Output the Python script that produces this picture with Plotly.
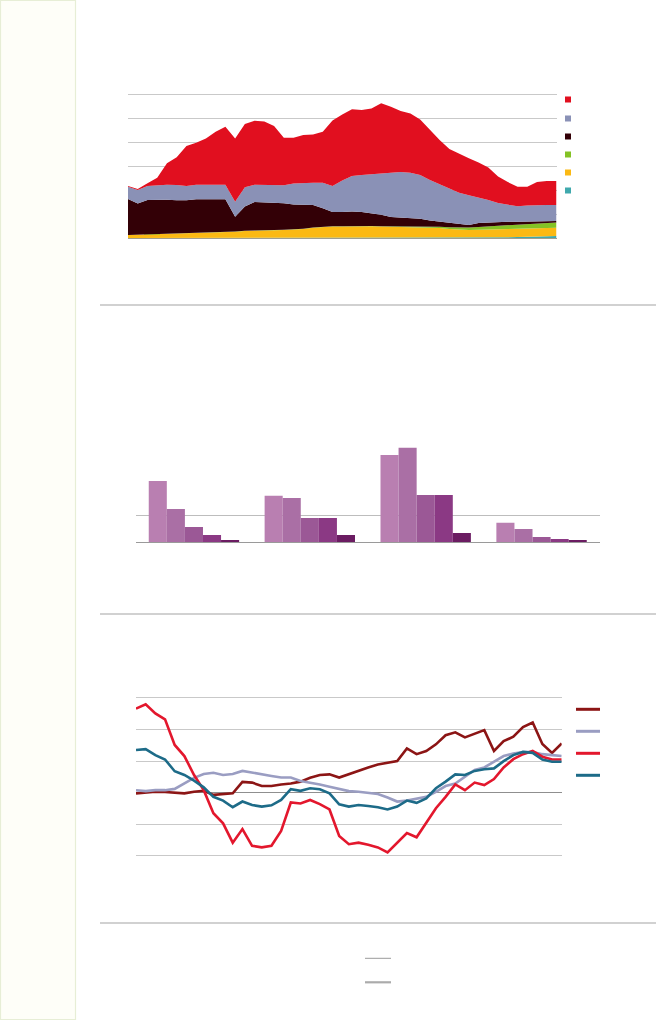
import plotly.graph_objects as go

W, H = 656, 1021

# ---------- panel 1: stacked areas ----------
years = list(range(1970, 2015))

area_red = [0.03, 0.04, 0.11, 0.30, 0.89, 1.15, 1.66, 1.75, 1.93, 2.21, 2.42, 2.64, 2.64, 2.67, 2.63,
            2.46, 1.98, 1.91, 1.99, 2.01, 2.13, 2.73, 2.75, 2.78, 2.70, 2.74, 2.89, 2.72, 2.54, 2.47,
            2.32, 2.08, 1.84, 1.66, 1.61, 1.54, 1.46, 1.36, 1.10, 0.95, 0.82, 0.79, 0.95, 1.00, 1.00]
area_grey = [0.51, 0.56, 0.59, 0.62, 0.63, 0.64, 0.60, 0.61, 0.60, 0.61, 0.61, 0.62, 0.80, 0.72, 0.73,
             0.72, 0.75, 0.87, 0.90, 0.92, 1.06, 1.09, 1.32, 1.48, 1.55, 1.63, 1.75, 1.87, 1.90, 1.89,
             1.82, 1.69, 1.56, 1.43, 1.32, 1.24, 1.06, 0.93, 0.78, 0.70, 0.64, 0.67, 0.69, 0.68, 0.67]
area_maroon = [1.50, 1.30, 1.43, 1.43, 1.42, 1.39, 1.38, 1.41, 1.41, 1.39, 1.37, 0.62, 1.01, 1.20, 1.18,
               1.16, 1.11, 1.04, 1.01, 0.94, 0.77, 0.59, 0.59, 0.60, 0.58, 0.53, 0.48, 0.39, 0.36, 0.35,
               0.32, 0.25, 0.21, 0.17, 0.13, 0.10, 0.17, 0.17, 0.18, 0.15, 0.13, 0.10, 0.09, 0.07, 0.06]
area_green = [0.01] * 27 + [0.02, 0.03, 0.03, 0.03, 0.04, 0.05, 0.07, 0.09, 0.11, 0.12, 0.13, 0.14,
                            0.15, 0.16, 0.18, 0.19, 0.21, 0.22]
area_orange = [0.12, 0.13, 0.14, 0.15, 0.16, 0.17, 0.18, 0.19, 0.20, 0.21, 0.23, 0.26, 0.29, 0.29, 0.30,
               0.32, 0.33, 0.35, 0.38, 0.43, 0.46, 0.48, 0.48, 0.49, 0.49, 0.49, 0.48, 0.47, 0.46, 0.45,
               0.45, 0.44, 0.42, 0.38, 0.35, 0.33, 0.34, 0.34, 0.34, 0.35, 0.35, 0.35, 0.35, 0.35, 0.35]
area_teal = [0.0] * 37 + [0.01, 0.02, 0.03, 0.04, 0.05, 0.06, 0.07, 0.08]

area_colors = {
    "teal": "#3fa9ad", "orange": "#fbb913", "green": "#84c225",
    "maroon": "#330006", "grey": "#8a91b6", "red": "#e10f1f",
}

# ---------- panel 2: grouped bars ----------
bar_groups = [0, 1, 2, 3]
bar_series = [
    [22.7, 17.2, 32.3, 7.2],
    [12.3, 16.4, 35.0, 4.9],
    [5.7, 9.0, 17.5, 2.0],
    [2.7, 9.0, 17.5, 1.2],
    [0.85, 2.7, 3.4, 0.85],
]
bar_colors = ["#b97fb1", "#aa6fa5", "#9b5896", "#8b3984", "#6b1c62"]

# ---------- panel 3: lines ----------
line_darkred = [-0.02, 0.00, 0.03, 0.02, 0.01, -0.02, 0.03, 0.06, -0.07, -0.05, -0.02, 0.34, 0.32, 0.21,
                0.21, 0.26, 0.29, 0.35, 0.47, 0.56, 0.58, 0.48, 0.59, 0.68, 0.80, 0.89, 0.95, 1.00, 1.40,
                1.22, 1.32, 1.53, 1.82, 1.91, 1.75, 1.87, 1.98, 1.32, 1.63, 1.77, 2.08, 2.22, 1.54, 1.26,
                1.56]
line_lavender = [0.08, 0.05, 0.08, 0.08, 0.12, 0.29, 0.47, 0.59, 0.63, 0.56, 0.59, 0.69, 0.63, 0.59, 0.53,
                 0.48, 0.48, 0.37, 0.32, 0.26, 0.19, 0.11, 0.05, 0.03, 0.00, -0.04, -0.15, -0.28, -0.25,
                 -0.20, -0.13, 0.03, 0.21, 0.29, 0.51, 0.72, 0.80, 0.98, 1.16, 1.24, 1.29, 1.29, 1.22,
                 1.19, 1.16]
line_red = [2.66, 2.80, 2.51, 2.32, 1.51, 1.16, 0.56, 0.08, -0.65, -0.97, -1.58, -1.15, -1.68, -1.73,
            -1.68, -1.21, -0.31, -0.34, -0.23, -0.36, -0.53, -1.37, -1.63, -1.58, -1.65, -1.73, -1.89,
            -1.60, -1.28, -1.41, -0.97, -0.49, -0.13, 0.26, 0.08, 0.32, 0.24, 0.43, 0.80, 1.06, 1.22,
            1.32, 1.14, 1.05, 1.05]
line_teal = [1.35, 1.38, 1.19, 1.05, 0.68, 0.56, 0.38, 0.17, -0.13, -0.25, -0.46, -0.28, -0.39, -0.44,
             -0.40, -0.23, 0.11, 0.06, 0.14, 0.11, -0.02, -0.37, -0.44, -0.39, -0.42, -0.46, -0.53, -0.44,
             -0.25, -0.32, -0.18, 0.14, 0.35, 0.58, 0.56, 0.69, 0.74, 0.77, 1.00, 1.19, 1.29, 1.26, 1.05,
             0.98, 0.98]
line_colors = ["#8c1515", "#9a9dc2", "#e3172d", "#1d6b88"]


def px_x(p):
    return p / W


def px_y(p):
    return 1 - p / H


fig = go.Figure()

# stacked areas, bottom layer first
for vals, key in [(area_teal, "teal"), (area_orange, "orange"), (area_green, "green"),
                  (area_maroon, "maroon"), (area_grey, "grey"), (area_red, "red")]:
    fig.add_trace(go.Scatter(
        x=years, y=vals, stackgroup="one", mode="lines",
        line=dict(width=0, color=area_colors[key]), fillcolor=area_colors[key],
        xaxis="x", yaxis="y", showlegend=False, hoverinfo="skip",
    ))

for vals, col in zip(bar_series, bar_colors):
    fig.add_trace(go.Bar(
        x=bar_groups, y=vals, marker=dict(color=col, line=dict(width=0)),
        xaxis="x2", yaxis="y2", showlegend=False, hoverinfo="skip",
    ))

for vals, col in zip([line_darkred, line_lavender, line_red, line_teal], line_colors):
    fig.add_trace(go.Scatter(
        x=years, y=vals, mode="lines", line=dict(color=col, width=2.6),
        xaxis="x3", yaxis="y3", showlegend=False, hoverinfo="skip",
    ))

shapes = []
# left sidebar panel
shapes.append(dict(type="rect", xref="paper", yref="paper",
                   x0=px_x(0.5), x1=px_x(75.5), y0=px_y(1019.5), y1=px_y(0.5),
                   fillcolor="#fefef8", line=dict(color="#e7eed6", width=1.2), layer="below"))
# section rules
for yy in [305, 614, 923]:
    shapes.append(dict(type="line", xref="paper", yref="paper",
                       x0=px_x(100), x1=px_x(656), y0=px_y(yy), y1=px_y(yy),
                       line=dict(color="#a3a3a3", width=1.2)))
# legend keys for the area panel
for yc, key in zip([99.5, 118.5, 136.5, 154.5, 172.5, 190.5],
                   ["red", "grey", "maroon", "green", "orange", "teal"]):
    shapes.append(dict(type="rect", xref="paper", yref="paper",
                       x0=px_x(565), x1=px_x(571), y0=px_y(yc + 3), y1=px_y(yc - 3),
                       fillcolor=area_colors[key], line=dict(width=0)))
# legend keys for the line panel
for yc, col in zip([709.3, 731.3, 753.3, 775.3], line_colors):
    shapes.append(dict(type="line", xref="paper", yref="paper",
                       x0=px_x(576), x1=px_x(600), y0=px_y(yc), y1=px_y(yc),
                       line=dict(color=col, width=3)))
# bottom key lines
shapes.append(dict(type="line", xref="paper", yref="paper",
                   x0=px_x(365), x1=px_x(391), y0=px_y(958.3), y1=px_y(958.3),
                   line=dict(color="#9a9a9a", width=1)))
shapes.append(dict(type="line", xref="paper", yref="paper",
                   x0=px_x(365), x1=px_x(391), y0=px_y(982.3), y1=px_y(982.3),
                   line=dict(color="#ababab", width=2.2)))

grid = "#c9c9c9"
# axis spans padded slightly so the outermost gridlines are drawn inside the plot area
fig.update_layout(
    width=W, height=H, margin=dict(l=0, r=0, t=0, b=0),
    paper_bgcolor="white", plot_bgcolor="rgba(0,0,0,0)",
    showlegend=False, shapes=shapes,
    barmode="group", bargap=0.22, bargroupgap=0,
    xaxis=dict(domain=[px_x(128), px_x(556.5)], range=[1970, 2014], showticklabels=False,
               showgrid=False, zeroline=False, ticks="", showline=True, linecolor="#9f9f8f",
               linewidth=1, anchor="y"),
    yaxis=dict(domain=[px_y(238), px_y(238 - 6.1 * 24)], range=[0, 6.1], dtick=1,
               showticklabels=False, showgrid=True, gridcolor=grid, gridwidth=1,
               zeroline=False, ticks="", anchor="x"),
    xaxis2=dict(domain=[px_x(136), px_x(599.5)], range=[-0.5, 3.5], showticklabels=False,
                showgrid=False, zeroline=False, ticks="", showline=True, linecolor="#9a9a9a",
                linewidth=1, anchor="y2"),
    yaxis2=dict(domain=[px_y(542.3), px_y(434.3)], range=[0, 40], tickvals=[10],
                showticklabels=False, showgrid=True, gridcolor="#bdbdbd", gridwidth=1,
                zeroline=False, ticks="", anchor="x2"),
    xaxis3=dict(domain=[px_x(136), px_x(561.7)], range=[1970, 2014], showticklabels=False,
                showgrid=False, zeroline=False, ticks="", anchor="y3"),
    yaxis3=dict(domain=[px_y(792.7 + 2.1 * 31.6), px_y(792.7 - 3.1 * 31.6)], range=[-2.1, 3.1],
                dtick=1, showticklabels=False, showgrid=True, gridcolor=grid, gridwidth=1,
                zeroline=True, zerolinecolor="#8f8f8f", zerolinewidth=1, ticks="", anchor="x3"),
)

fig.write_html("out.html")
